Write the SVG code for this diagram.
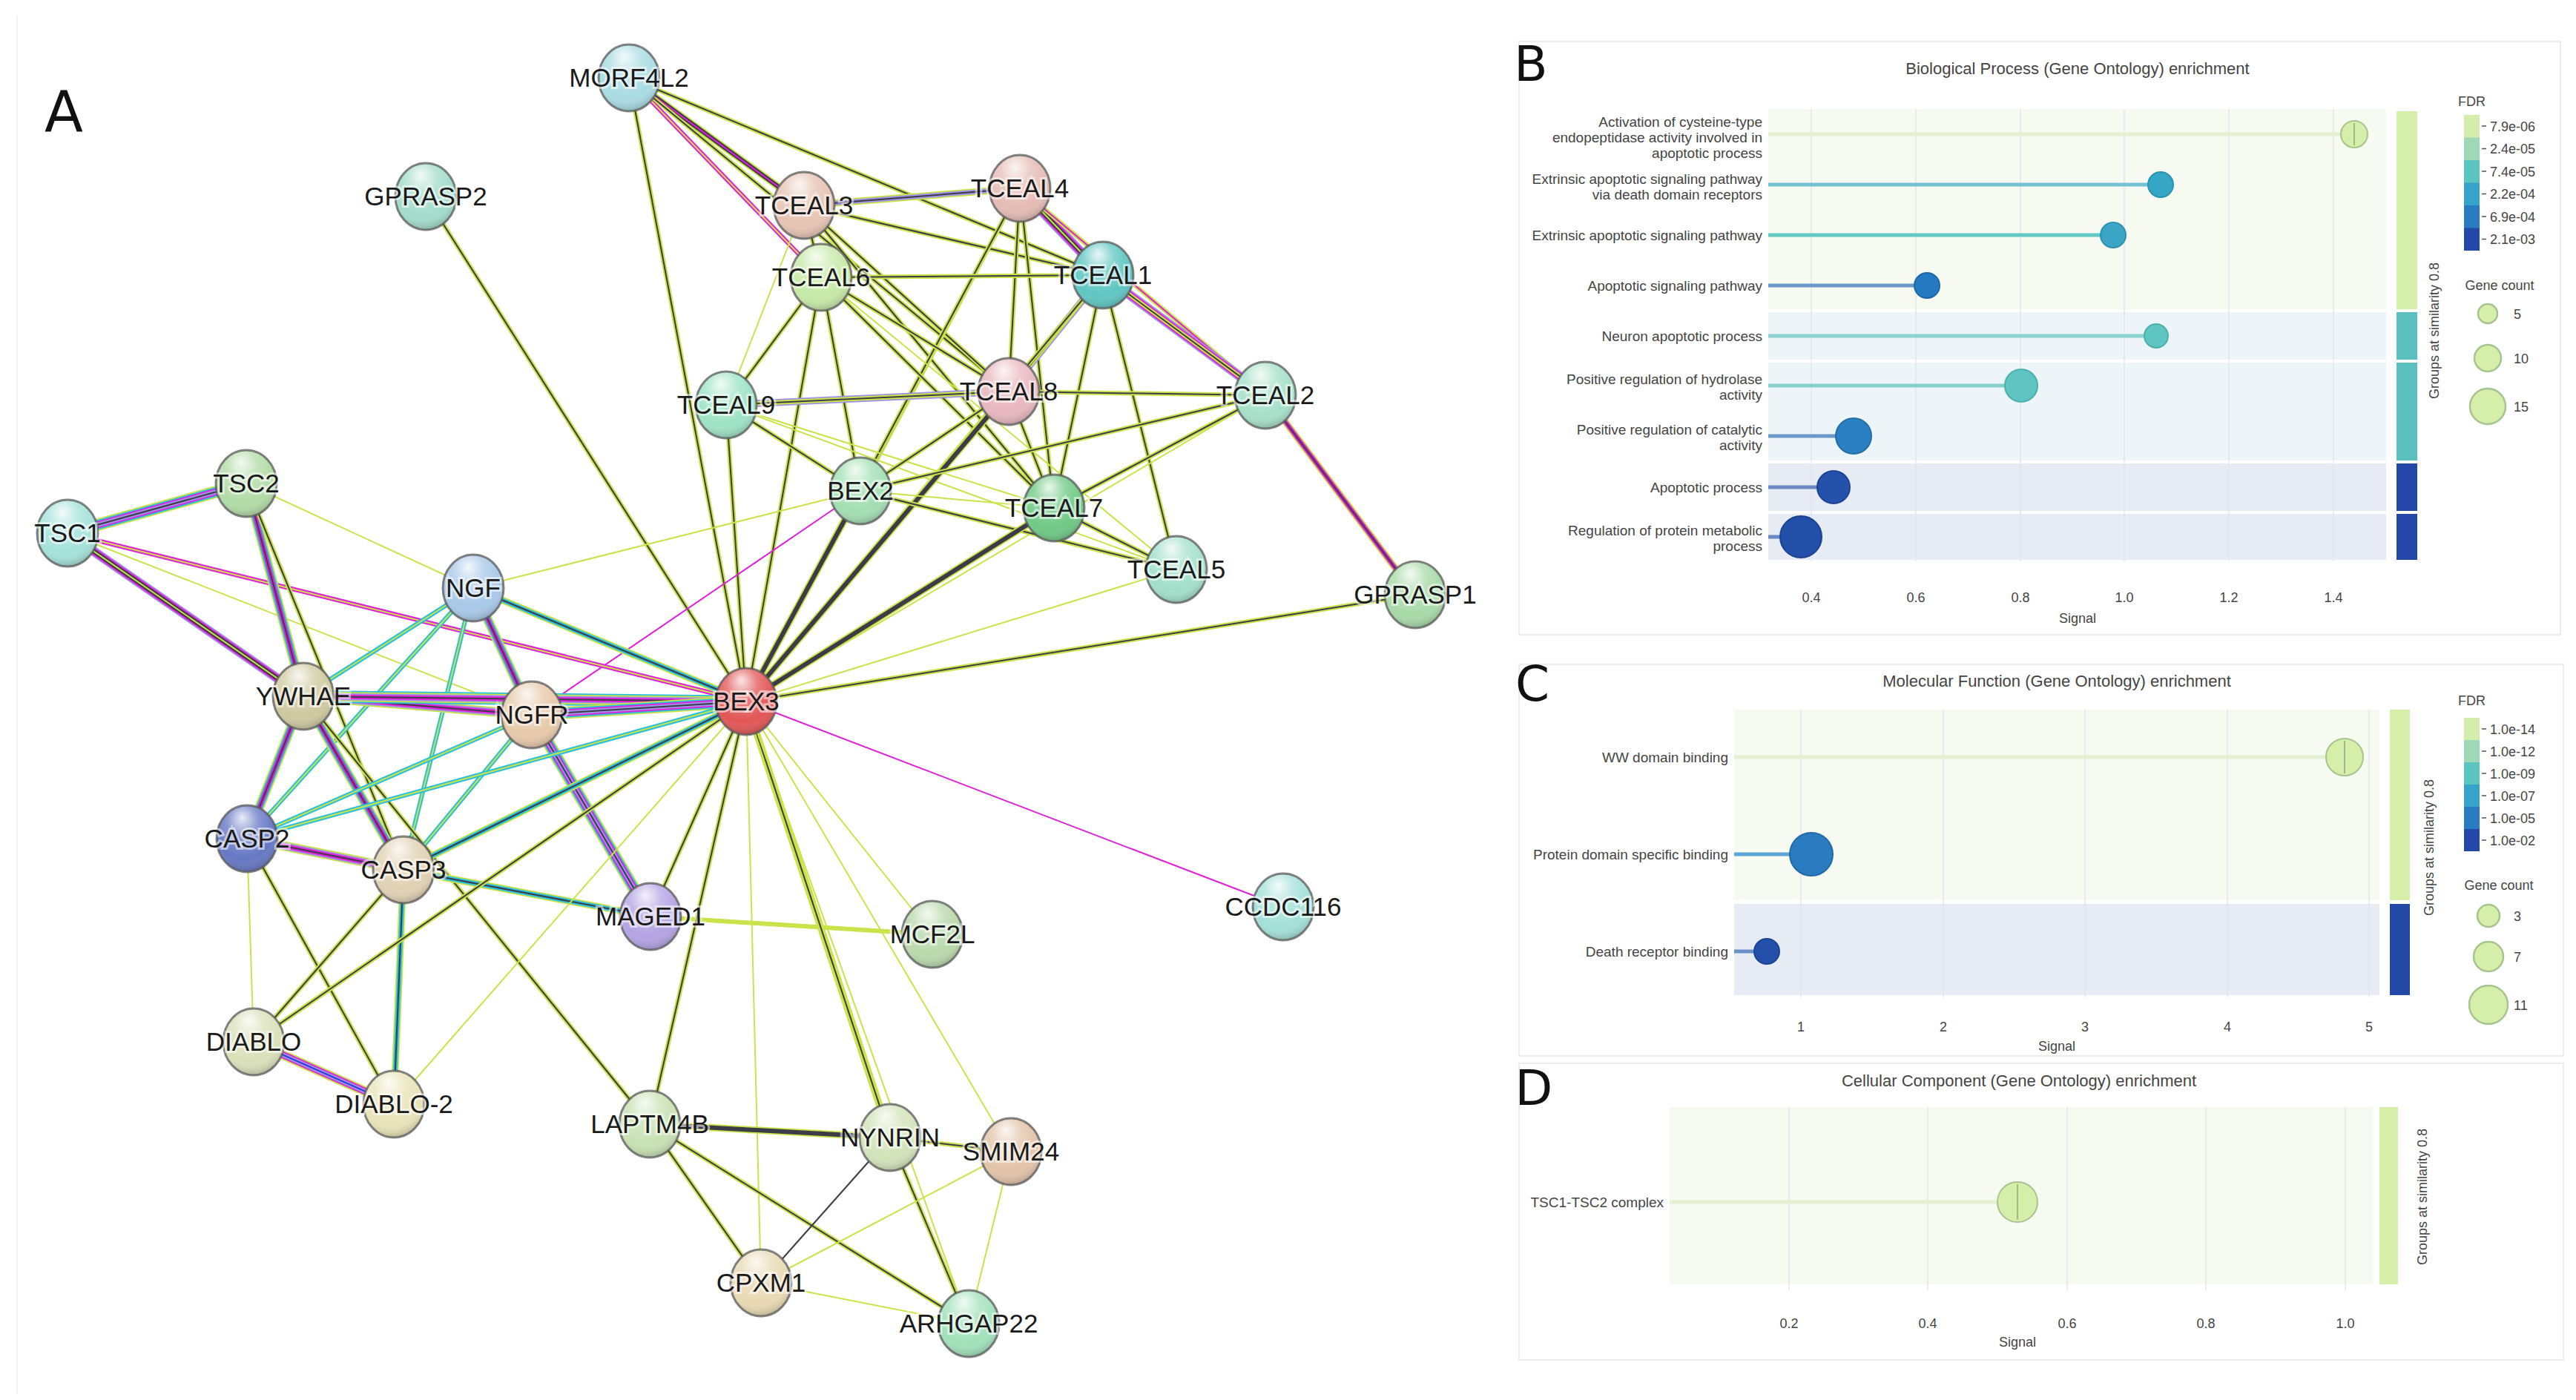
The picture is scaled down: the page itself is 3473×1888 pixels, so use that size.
<svg xmlns="http://www.w3.org/2000/svg" width="3473" height="1888" viewBox="0 0 3473 1888">
<style>
.e path{fill:none;stroke-linecap:butt}
.y{stroke:#cbe34a}.k{stroke:#3c3c48}.m{stroke:#e020d8}.c{stroke:#28c0dc}.p{stroke:#a090e8}.b{stroke:#3040d8}
.w1{stroke-width:2}.w2{stroke-width:6}.w3{stroke-width:9.5}.w4{stroke-width:13}.w5{stroke-width:16.5}
.sh{fill:url(#shine);stroke:#5a5a5a;stroke-width:3;stroke-opacity:.75}
.nl{font-family:"Liberation Sans",Arial,sans-serif;font-size:35px;fill:#1a1a1a;text-anchor:middle;stroke:#fff;stroke-width:6;stroke-opacity:.55;paint-order:stroke}
.pl{font-family:"DejaVu Sans","Liberation Sans",sans-serif;fill:#111;text-anchor:middle}
.t{font-family:"Liberation Sans",Arial,sans-serif;fill:#444}
.tt{font-size:22px;text-anchor:middle}
.lb{font-size:19px;text-anchor:end}
.tk{font-size:18px;text-anchor:middle}
.lg{font-size:18px}
.grid{stroke:#e4e6ec;stroke-width:1.5}
.box{fill:none;stroke:#ececec;stroke-width:2}
</style>
<defs>
<radialGradient id="shine" cx="0.45" cy="0.32" r="0.72" fx="0.42" fy="0.18">
<stop offset="0" stop-color="#fff" stop-opacity="0.85"/>
<stop offset="0.35" stop-color="#fff" stop-opacity="0.25"/>
<stop offset="0.72" stop-color="#fff" stop-opacity="0"/>
<stop offset="1" stop-color="#000" stop-opacity="0.28"/>
</radialGradient>
</defs>
<rect width="3473" height="1888" fill="#fff"/>

<g id="panel-frames">
<path d="M23 20V1880" stroke="#f2f2f2" stroke-width="2"/>
<rect class="box" x="2048" y="56" width="1404" height="800"/>
<rect class="box" x="2048" y="896" width="1408" height="528"/>
<rect class="box" x="2048" y="1434" width="1408" height="400"/>
</g>

<text class="pl" x="86" y="177" font-size="76">A</text>
<text class="pl" x="2064" y="109" font-size="66">B</text>
<text class="pl" x="2066" y="945" font-size="66">C</text>
<text class="pl" x="2068" y="1490" font-size="66">D</text>

<g id="connectors" class="e">
<path d="M848 105L1084 277" class="y w3"/><path d="M848 105L1084 277" class="k w2"/><path d="M848 105L1084 277" class="m w1"/>
<path d="M848 105L1107 374" class="m w2"/><path d="M848 105L1107 374" class="y w1"/>
<path d="M848 105L1487 371" class="y w2"/><path d="M848 105L1487 371" class="k w1"/>
<path d="M848 105L1360 528" class="y w2"/><path d="M848 105L1360 528" class="k w1"/>
<path d="M848 105L1006 946" class="y w2"/><path d="M848 105L1006 946" class="k w1"/>
<path d="M574 265L1006 946" class="y w2"/><path d="M574 265L1006 946" class="k w1"/>
<path d="M1084 277L1375 254" class="y w3"/><path d="M1084 277L1375 254" class="p w2"/><path d="M1084 277L1375 254" class="k w1"/>
<path d="M1084 277L1487 371" class="y w2"/><path d="M1084 277L1487 371" class="k w1"/>
<path d="M1084 277L1107 374" class="y w2"/><path d="M1084 277L1107 374" class="k w1"/>
<path d="M1084 277L1360 528" class="y w2"/><path d="M1084 277L1360 528" class="k w1"/>
<path d="M1084 277L1421 685" class="y w2"/><path d="M1084 277L1421 685" class="k w1"/>
<path d="M1084 277L979 546" class="y w1"/>
<path d="M1375 254L1487 371" class="p w4"/><path d="M1375 254L1487 371" class="m w3"/><path d="M1375 254L1487 371" class="k w2"/><path d="M1375 254L1487 371" class="y w1"/>
<path d="M1375 254L1706 533" class="y w2"/><path d="M1375 254L1706 533" class="m w1"/>
<path d="M1375 254L1360 528" class="y w2"/><path d="M1375 254L1360 528" class="k w1"/>
<path d="M1375 254L1421 685" class="y w2"/><path d="M1375 254L1421 685" class="k w1"/>
<path d="M1375 254L1160 662" class="y w2"/><path d="M1375 254L1160 662" class="k w1"/>
<path d="M1375 254L1006 946" class="y w2"/><path d="M1375 254L1006 946" class="k w1"/>
<path d="M1107 374L1487 371" class="y w2"/><path d="M1107 374L1487 371" class="k w1"/>
<path d="M1107 374L979 546" class="y w2"/><path d="M1107 374L979 546" class="k w1"/>
<path d="M1107 374L1160 662" class="y w2"/><path d="M1107 374L1160 662" class="k w1"/>
<path d="M1107 374L1360 528" class="y w2"/><path d="M1107 374L1360 528" class="k w1"/>
<path d="M1107 374L1421 685" class="y w2"/><path d="M1107 374L1421 685" class="k w1"/>
<path d="M1107 374L1586 768" class="y w1"/>
<path d="M1107 374L1006 946" class="y w2"/><path d="M1107 374L1006 946" class="k w1"/>
<path d="M1487 371L1360 528" class="p w3"/><path d="M1487 371L1360 528" class="y w2"/><path d="M1487 371L1360 528" class="k w1"/>
<path d="M1487 371L1421 685" class="y w2"/><path d="M1487 371L1421 685" class="k w1"/>
<path d="M1487 371L1586 768" class="y w2"/><path d="M1487 371L1586 768" class="k w1"/>
<path d="M1487 371L1706 533" class="p w4"/><path d="M1487 371L1706 533" class="m w3"/><path d="M1487 371L1706 533" class="y w2"/><path d="M1487 371L1706 533" class="k w1"/>
<path d="M1487 371L1006 946" class="y w2"/><path d="M1487 371L1006 946" class="k w1"/>
<path d="M979 546L1360 528" class="p w3"/><path d="M979 546L1360 528" class="y w2"/><path d="M979 546L1360 528" class="k w1"/>
<path d="M979 546L1160 662" class="y w2"/><path d="M979 546L1160 662" class="k w1"/>
<path d="M979 546L1421 685" class="y w1"/>
<path d="M979 546L1586 768" class="y w1"/>
<path d="M979 546L1006 946" class="y w2"/><path d="M979 546L1006 946" class="k w1"/>
<path d="M1360 528L1706 533" class="y w2"/><path d="M1360 528L1706 533" class="k w1"/>
<path d="M1360 528L1160 662" class="y w2"/><path d="M1360 528L1160 662" class="k w1"/>
<path d="M1360 528L1421 685" class="y w2"/><path d="M1360 528L1421 685" class="k w1"/>
<path d="M1360 528L1006 946" class="y w3"/><path d="M1360 528L1006 946" class="k w2"/>
<path d="M1706 533L1160 662" class="y w2"/><path d="M1706 533L1160 662" class="k w1"/>
<path d="M1706 533L1421 685" class="y w2"/><path d="M1706 533L1421 685" class="k w1"/>
<path d="M1706 533L1908 802" class="y w3"/><path d="M1706 533L1908 802" class="m w2"/><path d="M1706 533L1908 802" class="k w1"/>
<path d="M1706 533L1006 946" class="y w1"/>
<path d="M1160 662L1421 685" class="y w1"/>
<path d="M1160 662L1586 768" class="y w2"/><path d="M1160 662L1586 768" class="k w1"/>
<path d="M1160 662L1006 946" class="y w3"/><path d="M1160 662L1006 946" class="k w2"/>
<path d="M1160 662L717 964" class="m w1"/>
<path d="M1160 662L638 793" class="y w1"/>
<path d="M1421 685L1586 768" class="y w2"/><path d="M1421 685L1586 768" class="k w1"/>
<path d="M1421 685L1006 946" class="y w3"/><path d="M1421 685L1006 946" class="k w2"/>
<path d="M1586 768L1006 946" class="y w1"/>
<path d="M1908 802L1006 946" class="y w2"/><path d="M1908 802L1006 946" class="k w1"/>
<path d="M1730 1223L1006 946" class="m w1"/>

<path d="M91 719L332 652" class="y w5"/><path d="M91 719L332 652" class="c w4"/><path d="M91 719L332 652" class="m w3"/><path d="M91 719L332 652" class="p w2"/><path d="M91 719L332 652" class="k w1"/>
<path d="M91 719L409 939" class="p w4"/><path d="M91 719L409 939" class="m w3"/><path d="M91 719L409 939" class="k w2"/><path d="M91 719L409 939" class="y w1"/>
<path d="M91 719L1006 946" class="m w2"/><path d="M91 719L1006 946" class="y w1"/>
<path d="M91 719L717 964" class="y w1"/>
<path d="M332 652L409 939" class="y w4"/><path d="M332 652L409 939" class="c w3"/><path d="M332 652L409 939" class="m w2"/><path d="M332 652L409 939" class="k w1"/>
<path d="M332 652L544 1173" class="y w2"/><path d="M332 652L544 1173" class="k w1"/>
<path d="M332 652L638 793" class="y w1"/>
<path d="M638 793L409 939" class="c w2"/><path d="M638 793L409 939" class="y w1"/>
<path d="M638 793L717 964" class="y w4"/><path d="M638 793L717 964" class="c w3"/><path d="M638 793L717 964" class="m w2"/><path d="M638 793L717 964" class="k w1"/>
<path d="M638 793L1006 946" class="y w3"/><path d="M638 793L1006 946" class="c w2"/><path d="M638 793L1006 946" class="k w1"/>
<path d="M638 793L333 1131" class="c w2"/><path d="M638 793L333 1131" class="y w1"/>
<path d="M638 793L544 1173" class="c w2"/><path d="M638 793L544 1173" class="y w1"/>
<path d="M409 939L717 964" class="y w4"/><path d="M409 939L717 964" class="p w3"/><path d="M409 939L717 964" class="m w2"/><path d="M409 939L717 964" class="k w1"/>
<path d="M409 939L1006 946" class="c w5"/><path d="M409 939L1006 946" class="y w4"/><path d="M409 939L1006 946" class="p w3"/><path d="M409 939L1006 946" class="m w2"/><path d="M409 939L1006 946" class="k w1"/>
<path d="M409 939L333 1131" class="y w4"/><path d="M409 939L333 1131" class="c w3"/><path d="M409 939L333 1131" class="m w2"/><path d="M409 939L333 1131" class="k w1"/>
<path d="M409 939L544 1173" class="y w4"/><path d="M409 939L544 1173" class="c w3"/><path d="M409 939L544 1173" class="m w2"/><path d="M409 939L544 1173" class="k w1"/>
<path d="M409 939L876 1516" class="y w2"/><path d="M409 939L876 1516" class="k w1"/>
<path d="M717 964L1006 946" class="y w5"/><path d="M717 964L1006 946" class="c w4"/><path d="M717 964L1006 946" class="m w3"/><path d="M717 964L1006 946" class="p w2"/><path d="M717 964L1006 946" class="k w1"/>
<path d="M717 964L877 1236" class="y w5"/><path d="M717 964L877 1236" class="c w4"/><path d="M717 964L877 1236" class="m w3"/><path d="M717 964L877 1236" class="p w2"/><path d="M717 964L877 1236" class="k w1"/>
<path d="M717 964L333 1131" class="c w2"/><path d="M717 964L333 1131" class="y w1"/>
<path d="M717 964L544 1173" class="c w2"/><path d="M717 964L544 1173" class="y w1"/>
<path d="M333 1131L544 1173" class="y w4"/><path d="M333 1131L544 1173" class="p w3"/><path d="M333 1131L544 1173" class="m w2"/><path d="M333 1131L544 1173" class="k w1"/>
<path d="M333 1131L342 1405" class="y w1"/>
<path d="M333 1131L531 1489" class="y w2"/><path d="M333 1131L531 1489" class="k w1"/>
<path d="M544 1173L342 1405" class="y w2"/><path d="M544 1173L342 1405" class="k w1"/>
<path d="M544 1173L531 1489" class="y w3"/><path d="M544 1173L531 1489" class="c w2"/><path d="M544 1173L531 1489" class="k w1"/>
<path d="M544 1173L877 1236" class="y w3"/><path d="M544 1173L877 1236" class="c w2"/><path d="M544 1173L877 1236" class="k w1"/>
<path d="M342 1405L531 1489" class="y w4"/><path d="M342 1405L531 1489" class="m w3"/><path d="M342 1405L531 1489" class="p w2"/><path d="M342 1405L531 1489" class="b w1"/>
<path d="M877 1236L1257 1260" class="y w2"/>
<path d="M877 1236L1006 946" class="y w2"/><path d="M877 1236L1006 946" class="k w1"/>
<path d="M1006 946L1257 1260" class="y w1"/>
<path d="M1006 946L876 1516" class="y w2"/><path d="M1006 946L876 1516" class="k w1"/>
<path d="M1006 946L1200 1534" class="y w3"/><path d="M1006 946L1200 1534" class="k w1"/>
<path d="M1006 946L1363 1553" class="y w1"/>
<path d="M1006 946L1026 1730" class="y w1"/>
<path d="M1006 946L1306 1785" class="y w1"/>
<path d="M1006 946L342 1405" class="y w2"/><path d="M1006 946L342 1405" class="k w1"/>
<path d="M1006 946L531 1489" class="y w1"/>
<path d="M1006 946L333 1131" class="c w2"/><path d="M1006 946L333 1131" class="y w1"/>
<path d="M1006 946L544 1173" class="y w3"/><path d="M1006 946L544 1173" class="c w2"/><path d="M1006 946L544 1173" class="k w1"/>
<path d="M876 1516L1200 1534" class="y w3"/><path d="M876 1516L1200 1534" class="k w2"/>
<path d="M876 1516L1026 1730" class="y w2"/><path d="M876 1516L1026 1730" class="k w1"/>
<path d="M876 1516L1306 1785" class="y w2"/><path d="M876 1516L1306 1785" class="k w1"/>
<path d="M1200 1534L1363 1553" class="y w2"/><path d="M1200 1534L1363 1553" class="k w1"/>
<path d="M1200 1534L1026 1730" class="k w1"/>
<path d="M1200 1534L1306 1785" class="y w2"/><path d="M1200 1534L1306 1785" class="k w1"/>
<path d="M1363 1553L1026 1730" class="y w1"/>
<path d="M1363 1553L1306 1785" class="y w1"/>
<path d="M1026 1730L1306 1785" class="y w1"/>
</g>

<g id="n-MORF4L2"><ellipse cx="848" cy="105" rx="41" ry="45" fill="#a9dbe3"/><ellipse cx="848" cy="105" rx="41" ry="45" class="sh"/><text class="nl" x="848" y="117">MORF4L2</text></g>
<g id="n-GPRASP2"><ellipse cx="574" cy="265" rx="41" ry="45" fill="#a3dcca"/><ellipse cx="574" cy="265" rx="41" ry="45" class="sh"/><text class="nl" x="574" y="277">GPRASP2</text></g>
<g id="n-TCEAL3"><ellipse cx="1084" cy="277" rx="41" ry="45" fill="#e6c3b3"/><ellipse cx="1084" cy="277" rx="41" ry="45" class="sh"/><text class="nl" x="1084" y="289">TCEAL3</text></g>
<g id="n-TCEAL4"><ellipse cx="1375" cy="254" rx="41" ry="45" fill="#e5bcb4"/><ellipse cx="1375" cy="254" rx="41" ry="45" class="sh"/><text class="nl" x="1375" y="266">TCEAL4</text></g>
<g id="n-TCEAL6"><ellipse cx="1107" cy="374" rx="41" ry="45" fill="#c6e9a6"/><ellipse cx="1107" cy="374" rx="41" ry="45" class="sh"/><text class="nl" x="1107" y="386">TCEAL6</text></g>
<g id="n-TCEAL1"><ellipse cx="1487" cy="371" rx="41" ry="45" fill="#5fc6c2"/><ellipse cx="1487" cy="371" rx="41" ry="45" class="sh"/><text class="nl" x="1487" y="383">TCEAL1</text></g>
<g id="n-TCEAL9"><ellipse cx="979" cy="546" rx="41" ry="45" fill="#9de3c6"/><ellipse cx="979" cy="546" rx="41" ry="45" class="sh"/><text class="nl" x="979" y="558">TCEAL9</text></g>
<g id="n-TCEAL8"><ellipse cx="1360" cy="528" rx="41" ry="45" fill="#e8b7bf"/><ellipse cx="1360" cy="528" rx="41" ry="45" class="sh"/><text class="nl" x="1360" y="540">TCEAL8</text></g>
<g id="n-TCEAL2"><ellipse cx="1706" cy="533" rx="41" ry="45" fill="#a6e0c9"/><ellipse cx="1706" cy="533" rx="41" ry="45" class="sh"/><text class="nl" x="1706" y="545">TCEAL2</text></g>
<g id="n-BEX2"><ellipse cx="1160" cy="662" rx="41" ry="45" fill="#a3dfb3"/><ellipse cx="1160" cy="662" rx="41" ry="45" class="sh"/><text class="nl" x="1160" y="674">BEX2</text></g>
<g id="n-TCEAL7"><ellipse cx="1421" cy="685" rx="41" ry="45" fill="#6fc985"/><ellipse cx="1421" cy="685" rx="41" ry="45" class="sh"/><text class="nl" x="1421" y="697">TCEAL7</text></g>
<g id="n-TCEAL5"><ellipse cx="1586" cy="768" rx="41" ry="45" fill="#a2dfcb"/><ellipse cx="1586" cy="768" rx="41" ry="45" class="sh"/><text class="nl" x="1586" y="780">TCEAL5</text></g>
<g id="n-GPRASP1"><ellipse cx="1908" cy="802" rx="41" ry="45" fill="#a8daa8"/><ellipse cx="1908" cy="802" rx="41" ry="45" class="sh"/><text class="nl" x="1908" y="814">GPRASP1</text></g>
<g id="n-TSC2"><ellipse cx="332" cy="652" rx="41" ry="45" fill="#b1dba6"/><ellipse cx="332" cy="652" rx="41" ry="45" class="sh"/><text class="nl" x="332" y="664">TSC2</text></g>
<g id="n-TSC1"><ellipse cx="91" cy="719" rx="41" ry="45" fill="#a4e2da"/><ellipse cx="91" cy="719" rx="41" ry="45" class="sh"/><text class="nl" x="91" y="731">TSC1</text></g>
<g id="n-NGF"><ellipse cx="638" cy="793" rx="41" ry="45" fill="#a8c8e8"/><ellipse cx="638" cy="793" rx="41" ry="45" class="sh"/><text class="nl" x="638" y="805">NGF</text></g>
<g id="n-YWHAE"><ellipse cx="409" cy="939" rx="41" ry="45" fill="#cfc9a0"/><ellipse cx="409" cy="939" rx="41" ry="45" class="sh"/><text class="nl" x="409" y="951">YWHAE</text></g>
<g id="n-NGFR"><ellipse cx="717" cy="964" rx="41" ry="45" fill="#e7c9aa"/><ellipse cx="717" cy="964" rx="41" ry="45" class="sh"/><text class="nl" x="717" y="976">NGFR</text></g>
<g id="n-BEX3"><ellipse cx="1006" cy="946" rx="41" ry="45" fill="#e25555"/><ellipse cx="1006" cy="946" rx="41" ry="45" class="sh"/><text class="nl" x="1006" y="958">BEX3</text></g>
<g id="n-CASP2"><ellipse cx="333" cy="1131" rx="41" ry="45" fill="#6677c4"/><ellipse cx="333" cy="1131" rx="41" ry="45" class="sh"/><text class="nl" x="333" y="1143">CASP2</text></g>
<g id="n-CASP3"><ellipse cx="544" cy="1173" rx="41" ry="45" fill="#e1d1b3"/><ellipse cx="544" cy="1173" rx="41" ry="45" class="sh"/><text class="nl" x="544" y="1185">CASP3</text></g>
<g id="n-MAGED1"><ellipse cx="877" cy="1236" rx="41" ry="45" fill="#b3a3e3"/><ellipse cx="877" cy="1236" rx="41" ry="45" class="sh"/><text class="nl" x="877" y="1248">MAGED1</text></g>
<g id="n-MCF2L"><ellipse cx="1257" cy="1260" rx="41" ry="45" fill="#b9d9ab"/><ellipse cx="1257" cy="1260" rx="41" ry="45" class="sh"/><text class="nl" x="1257" y="1272">MCF2L</text></g>
<g id="n-CCDC116"><ellipse cx="1730" cy="1223" rx="41" ry="45" fill="#a3e0d8"/><ellipse cx="1730" cy="1223" rx="41" ry="45" class="sh"/><text class="nl" x="1730" y="1235">CCDC116</text></g>
<g id="n-DIABLO"><ellipse cx="342" cy="1405" rx="41" ry="45" fill="#d9e0b9"/><ellipse cx="342" cy="1405" rx="41" ry="45" class="sh"/><text class="nl" x="342" y="1417">DIABLO</text></g>
<g id="n-DIABLO-2"><ellipse cx="531" cy="1489" rx="41" ry="45" fill="#e8e3b8"/><ellipse cx="531" cy="1489" rx="41" ry="45" class="sh"/><text class="nl" x="531" y="1501">DIABLO-2</text></g>
<g id="n-LAPTM4B"><ellipse cx="876" cy="1516" rx="41" ry="45" fill="#c8e2b3"/><ellipse cx="876" cy="1516" rx="41" ry="45" class="sh"/><text class="nl" x="876" y="1528">LAPTM4B</text></g>
<g id="n-NYNRIN"><ellipse cx="1200" cy="1534" rx="41" ry="45" fill="#d2e3b9"/><ellipse cx="1200" cy="1534" rx="41" ry="45" class="sh"/><text class="nl" x="1200" y="1546">NYNRIN</text></g>
<g id="n-SMIM24"><ellipse cx="1363" cy="1553" rx="41" ry="45" fill="#e2c3a9"/><ellipse cx="1363" cy="1553" rx="41" ry="45" class="sh"/><text class="nl" x="1363" y="1565">SMIM24</text></g>
<g id="n-CPXM1"><ellipse cx="1026" cy="1730" rx="41" ry="45" fill="#e8d9b3"/><ellipse cx="1026" cy="1730" rx="41" ry="45" class="sh"/><text class="nl" x="1026" y="1742">CPXM1</text></g>
<g id="n-ARHGAP22"><ellipse cx="1306" cy="1785" rx="41" ry="45" fill="#a1e1ba"/><ellipse cx="1306" cy="1785" rx="41" ry="45" class="sh"/><text class="nl" x="1306" y="1797">ARHGAP22</text></g>

<g id="panel-B" class="t">
<text class="tt" x="2801" y="100">Biological Process (Gene Ontology) enrichment</text>
<rect x="2384" y="147" width="833" height="270" fill="#f7faf0"/>
<rect x="2384" y="421" width="833" height="64" fill="#eef5f8"/>
<rect x="2384" y="489" width="833" height="132" fill="#eef5f8"/>
<rect x="2384" y="625" width="833" height="64" fill="#e6ebf4"/>
<rect x="2384" y="693" width="833" height="62" fill="#e6ebf4"/>
<path class="grid" d="M2442 147V757M2583 147V757M2724 147V757M2864 147V757M3005 147V757M3146 147V757"/>
<text class="tk" x="2442" y="812">0.4</text><text class="tk" x="2583" y="812">0.6</text><text class="tk" x="2724" y="812">0.8</text><text class="tk" x="2864" y="812">1.0</text><text class="tk" x="3005" y="812">1.2</text><text class="tk" x="3146" y="812">1.4</text>
<text class="tk" x="2801" y="840">Signal</text>
<text class="lb" x="2376" y="171">Activation of cysteine-type</text>
<text class="lb" x="2376" y="192">endopeptidase activity involved in</text>
<text class="lb" x="2376" y="213">apoptotic process</text>
<text class="lb" x="2376" y="248">Extrinsic apoptotic signaling pathway</text>
<text class="lb" x="2376" y="269">via death domain receptors</text>
<text class="lb" x="2376" y="324">Extrinsic apoptotic signaling pathway</text>
<text class="lb" x="2376" y="392">Apoptotic signaling pathway</text>
<text class="lb" x="2376" y="460">Neuron apoptotic process</text>
<text class="lb" x="2376" y="518">Positive regulation of hydrolase</text>
<text class="lb" x="2376" y="539">activity</text>
<text class="lb" x="2376" y="586">Positive regulation of catalytic</text>
<text class="lb" x="2376" y="607">activity</text>
<text class="lb" x="2376" y="664">Apoptotic process</text>
<text class="lb" x="2376" y="722">Regulation of protein metabolic</text>
<text class="lb" x="2376" y="743">process</text>
<g stroke-width="5">
<path d="M2384 181H3174" stroke="#e4f0d2"/>
<path d="M2384 249H2913" stroke="#74c2d4"/>
<path d="M2384 317H2849" stroke="#62c8c2"/>
<path d="M2384 385H2598" stroke="#6a98c8"/>
<path d="M2384 453H2907" stroke="#8cd2d0"/>
<path d="M2384 520H2725" stroke="#86cfcb"/>
<path d="M2384 588H2499" stroke="#6a98c8"/>
<path d="M2384 657H2472" stroke="#6c88c4"/>
<path d="M2384 724H2428" stroke="#6c88c4"/>
</g>
<g stroke-width="2">
<circle cx="3174" cy="181" r="18" fill="#d5eeaa" stroke="#a6c48e"/>
<path d="M3174 166V196" stroke="#8aa878" stroke-width="1.5"/>
<circle cx="2913" cy="249" r="17" fill="#35a7c6" stroke="#2b93b0"/>
<circle cx="2849" cy="317" r="17" fill="#3aa5c5" stroke="#2f92b0"/>
<circle cx="2598" cy="385" r="17" fill="#2479c0" stroke="#1d68a8"/>
<circle cx="2907" cy="453" r="16" fill="#5ec5c2" stroke="#4db0ad"/>
<circle cx="2725" cy="520" r="22" fill="#5ec5c2" stroke="#4db0ad"/>
<circle cx="2499" cy="588" r="24" fill="#2a80c0" stroke="#226ea8"/>
<circle cx="2472" cy="657" r="22" fill="#2452aa" stroke="#1d4494"/>
<circle cx="2428" cy="724" r="28" fill="#2250a8" stroke="#1c4392"/>
</g>
<rect x="3231" y="150" width="28" height="267" fill="#d5eeaa"/>
<rect x="3231" y="421" width="28" height="64" fill="#5cbfbf"/>
<rect x="3231" y="489" width="28" height="132" fill="#5cbfbf"/>
<rect x="3231" y="625" width="28" height="64" fill="#2448a8"/>
<rect x="3231" y="693" width="28" height="62" fill="#2448a8"/>
<text class="lg" transform="translate(3288 446) rotate(-90)" text-anchor="middle">Groups at similarity 0.8</text>
<text class="lg" x="3314" y="143">FDR</text>
<rect x="3322" y="155" width="21" height="31" fill="#d4edaa"/>
<rect x="3322" y="185.5" width="21" height="31" fill="#9ed8b8"/>
<rect x="3322" y="216" width="21" height="31" fill="#5cc4c0"/>
<rect x="3322" y="246.5" width="21" height="31" fill="#36a4c8"/>
<rect x="3322" y="277" width="21" height="31" fill="#2a7cc0"/>
<rect x="3322" y="307.5" width="21" height="30.5" fill="#2448a8"/>
<path d="M3346 170H3352M3346 200.5H3352M3346 231H3352M3346 261.5H3352M3346 292H3352M3346 322.5H3352" stroke="#555" stroke-width="1.5"/>
<g class="lg">
<text x="3357" y="177">7.9e-06</text><text x="3357" y="207">2.4e-05</text><text x="3357" y="238">7.4e-05</text><text x="3357" y="268">2.2e-04</text><text x="3357" y="299">6.9e-04</text><text x="3357" y="329">2.1e-03</text>
</g>
<text class="lg" x="3370" y="391" text-anchor="middle">Gene count</text>
<g fill="#d5eeaa" stroke="#a6c48e" stroke-width="2.5">
<circle cx="3354" cy="423" r="13"/><circle cx="3354" cy="483" r="18"/><circle cx="3354" cy="548" r="24"/>
</g>
<text class="lg" x="3389" y="430">5</text><text class="lg" x="3389" y="490">10</text><text class="lg" x="3389" y="555">15</text>
</g>

<g id="panel-C" class="t">
<text class="tt" x="2773" y="926">Molecular Function (Gene Ontology) enrichment</text>
<rect x="2338" y="957" width="870" height="257" fill="#f7faf0"/>
<rect x="2338" y="1219" width="870" height="123" fill="#e6ebf4"/>
<path class="grid" d="M2428 957V1345M2620 957V1345M2811 957V1345M3003 957V1345M3194 957V1345"/>
<text class="tk" x="2428" y="1391">1</text><text class="tk" x="2620" y="1391">2</text><text class="tk" x="2811" y="1391">3</text><text class="tk" x="3003" y="1391">4</text><text class="tk" x="3194" y="1391">5</text>
<text class="tk" x="2773" y="1417">Signal</text>
<text class="lb" x="2330" y="1028">WW domain binding</text>
<text class="lb" x="2330" y="1159">Protein domain specific binding</text>
<text class="lb" x="2330" y="1290">Death receptor binding</text>
<g stroke-width="5">
<path d="M2338 1021H3161" stroke="#e4f0d2"/>
<path d="M2338 1152H2442" stroke="#5ea4d4"/>
<path d="M2338 1283H2382" stroke="#6a8ec8"/>
</g>
<g stroke-width="2">
<circle cx="3161" cy="1021" r="25" fill="#d5eeaa" stroke="#a6c48e"/>
<path d="M3161 999V1043" stroke="#8aa878" stroke-width="1.5"/>
<circle cx="2442" cy="1152" r="29" fill="#2a7bc0" stroke="#226aa8"/>
<circle cx="2382" cy="1283" r="17" fill="#2450ab" stroke="#1d4494"/>
</g>
<rect x="3222" y="957" width="27" height="257" fill="#d5eeaa"/>
<rect x="3222" y="1219" width="27" height="123" fill="#2448a8"/>
<text class="lg" transform="translate(3281 1143) rotate(-90)" text-anchor="middle">Groups at similarity 0.8</text>
<text class="lg" x="3314" y="951">FDR</text>
<rect x="3322" y="968" width="21" height="30.5" fill="#d4edaa"/>
<rect x="3322" y="998" width="21" height="30.5" fill="#9ed8b8"/>
<rect x="3322" y="1028" width="21" height="30.5" fill="#5cc4c0"/>
<rect x="3322" y="1058" width="21" height="30.5" fill="#36a4c8"/>
<rect x="3322" y="1088" width="21" height="30.5" fill="#2a7cc0"/>
<rect x="3322" y="1118" width="21" height="30" fill="#2448a8"/>
<path d="M3346 983H3352M3346 1013H3352M3346 1043H3352M3346 1073H3352M3346 1103H3352M3346 1133H3352" stroke="#555" stroke-width="1.5"/>
<g class="lg">
<text x="3357" y="990">1.0e-14</text><text x="3357" y="1020">1.0e-12</text><text x="3357" y="1050">1.0e-09</text><text x="3357" y="1080">1.0e-07</text><text x="3357" y="1110">1.0e-05</text><text x="3357" y="1140">1.0e-02</text>
</g>
<text class="lg" x="3369" y="1200" text-anchor="middle">Gene count</text>
<g fill="#d5eeaa" stroke="#a6c48e" stroke-width="2.5">
<circle cx="3355" cy="1235" r="15"/><circle cx="3355" cy="1290" r="20"/><circle cx="3355" cy="1355" r="26"/>
</g>
<text class="lg" x="3389" y="1242">3</text><text class="lg" x="3389" y="1297">7</text><text class="lg" x="3389" y="1362">11</text>
</g>

<g id="panel-D" class="t">
<text class="tt" x="2722" y="1465">Cellular Component (Gene Ontology) enrichment</text>
<rect x="2251" y="1493" width="948" height="239" fill="#f7faf0"/>
<path class="grid" d="M2412 1493V1740M2599 1493V1740M2787 1493V1740M2974 1493V1740M3162 1493V1740"/>
<text class="tk" x="2412" y="1791">0.2</text><text class="tk" x="2599" y="1791">0.4</text><text class="tk" x="2787" y="1791">0.6</text><text class="tk" x="2974" y="1791">0.8</text><text class="tk" x="3162" y="1791">1.0</text>
<text class="tk" x="2720" y="1816">Signal</text>
<text class="lb" x="2243" y="1628">TSC1-TSC2 complex</text>
<path d="M2251 1621H2720" stroke="#e4f0d2" stroke-width="5"/>
<circle cx="2720" cy="1621" r="27" fill="#d5eeaa" stroke="#a6c48e" stroke-width="2"/>
<path d="M2720 1597V1645" stroke="#8aa878" stroke-width="1.5"/>
<rect x="3208" y="1493" width="25" height="239" fill="#d5eeaa"/>
<text class="lg" transform="translate(3272 1614) rotate(-90)" text-anchor="middle">Groups at similarity 0.8</text>
</g>
</svg>
